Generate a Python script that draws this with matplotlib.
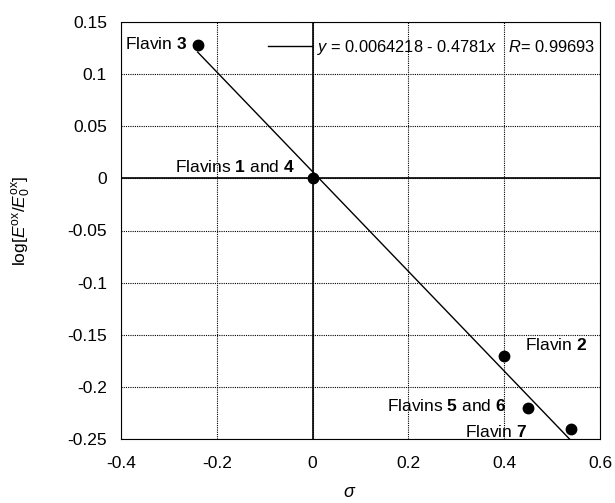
import matplotlib
matplotlib.use("Agg")
import matplotlib.pyplot as plt
import numpy as np

plt.rcParams['font.family'] = ['Liberation Sans', 'DejaVu Sans']
plt.rcParams['mathtext.fontset'] = 'custom'
plt.rcParams['mathtext.rm'] = 'Liberation Sans'
plt.rcParams['mathtext.it'] = 'Liberation Sans:italic'
plt.rcParams['mathtext.bf'] = 'Liberation Sans:bold'

# Data
sigma = [-0.24, 0.0, 0.40, 0.45, 0.54]
log_ratio = [0.128, 0.0, -0.17, -0.22, -0.24]
point_labels = [r"Flavin $\mathbf{3}$", r"Flavins $\mathbf{1}$ and $\mathbf{4}$",
                r"Flavin $\mathbf{2}$", r"Flavins $\mathbf{5}$ and $\mathbf{6}$",
                r"Flavin $\mathbf{7}$"]
intercept = 0.0064218
slope = -0.4781
r_value = 0.99693
x_ticks = [-0.4, -0.2, 0, 0.2, 0.4, 0.6]
x_ticklabels = ["-0.4", "-0.2", "0", "0.2", "0.4", "0.6"]
y_ticks = [0.15, 0.1, 0.05, 0, -0.05, -0.1, -0.15, -0.2, -0.25]
y_ticklabels = ["0.15", "0.1", "0.05", "0", "-0.05", "-0.1", "-0.15", "-0.2", "-0.25"]

fig = plt.figure(figsize=(6.15, 5.03), dpi=100)
ax = fig.add_axes([121/615, 1-439/503, 479/615, 417/503])

ax.set_xlim(-0.4, 0.6)
ax.set_ylim(-0.25, 0.15)
ax.set_xticks(x_ticks)
ax.set_xticklabels(x_ticklabels)
ax.set_yticks(y_ticks)
ax.set_yticklabels(y_ticklabels)
ax.tick_params(length=0, labelsize=12.5, pad=10)
ax.tick_params(axis='x', pad=12)

dot = (0, (1, 1))
ax.grid(True, color='black', linestyle=dot, linewidth=0.8)
for sp in ax.spines.values():
    sp.set_linestyle(dot)
    sp.set_linewidth(0.8)
ax.axhline(0, color='black', lw=1.2, zorder=2)
ax.axvline(0, color='black', lw=1.2, zorder=2)

# Fit line
xf = np.linspace(min(sigma), max(sigma), 50)
yf = intercept + slope * xf
fit_label = rf"$y$ = {intercept} - {-slope}$x$   $R$= {r_value}"
ax.plot(xf, yf, color='black', lw=1.0, zorder=3, label=fit_label)

ax.plot(sigma, log_ratio, 'o', color='black', markersize=7.5, zorder=4)

# label offsets (pixels)
offsets = [(-10, 1, 'right'), (-18, 11, 'right'), (21, 11, 'left'),
           (-22, 2, 'right'), (-44, -3, 'right')]
for xv, yv, lab, (dx, dy, ha) in zip(sigma, log_ratio, point_labels, offsets):
    ax.annotate(lab, (xv, yv), xytext=(dx*0.72, dy*0.72), textcoords='offset points',
                ha=ha, va='center', fontsize=12.5, zorder=5)

leg = ax.legend(loc='center left', bbox_to_anchor=(0.307, 0.94), frameon=False,
                fontsize=11.8, handlelength=2.7, handletextpad=0.3,
                borderpad=0, borderaxespad=0)

ax.set_xlabel(r"$\sigma$", fontsize=13)
ax.xaxis.set_label_coords(0.478, -0.108)
ax.set_ylabel(r"log[$E^{\mathrm{ox}}$/$E_0^{\mathrm{ox}}$]", fontsize=12.5)
ax.yaxis.set_label_coords(-0.184, 0.523)

fig.savefig("out.png", dpi=100)
